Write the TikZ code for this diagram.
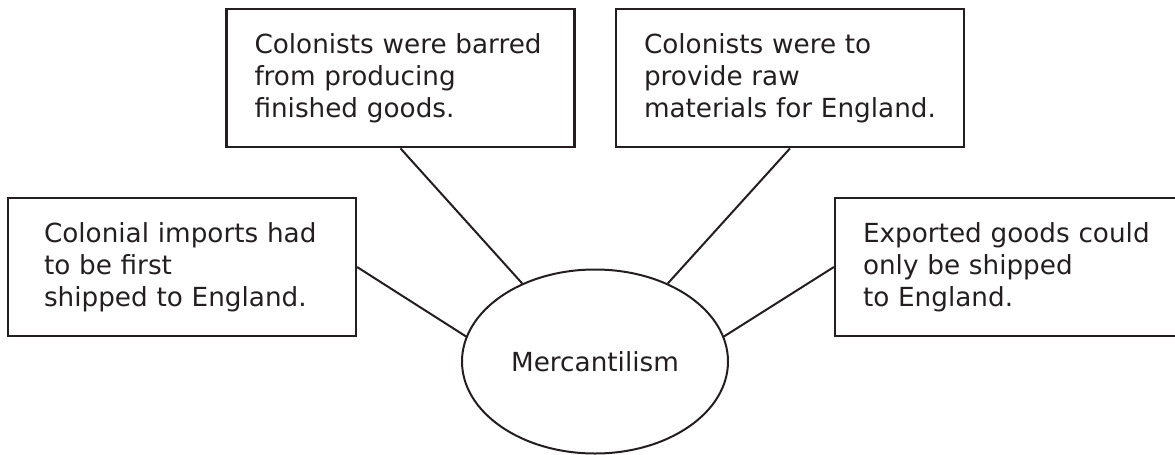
\documentclass[tikz,border=0pt]{standalone}
\usepackage{fontspec}
\setmainfont{DejaVu Sans}
\usetikzlibrary{shapes.geometric}
\definecolor{ink}{RGB}{35,31,32}

\begin{document}
\begin{tikzpicture}[x=0.75pt,y=0.75pt,yscale=-1,xscale=1,
  factbox/.style={draw=ink, line width=1.6pt, text=ink, minimum width=261pt, minimum height=104pt, inner xsep=21pt, text width=219pt, align=left, font=\fontsize{19.7}{24}\selectfont},
  hubnode/.style={ellipse, draw=ink, line width=1.5pt, text=ink, minimum width=199.5pt, minimum height=138pt, inner sep=0pt, font=\fontsize{19.7}{24}\selectfont},
  spoke/.style={draw=ink, line width=1.5pt}]
%set diagram size to the reference
\useasboundingbox (0,0) rectangle (1175,454);

% Text Node
\node [factbox] (barred) at (400.5,78) {Colonists were barred\\from producing\\finished goods.};
% Text Node
\node [factbox] (rawmat) at (790,78) {Colonists were to\\provide raw\\materials for England.};
% Text Node
\node [factbox, inner xsep=27pt, text width=207pt] (imports) at (182,267) {Colonial imports had\\to be first\\shipped to England.};
% Text Node
\node [factbox] (exports) at (1009,267) {Exported goods could\\only be shipped\\to England.};
% Ellipse
\node [hubnode] (merc) at (595,361.5) {Mercantilism};

%Straight Lines
\draw [spoke] (barred.south) -- (merc.133) ;
\draw [spoke] (rawmat.south) -- (merc.47) ;
\draw [spoke] (imports.east) -- (merc.169) ;
\draw [spoke] (exports.west) -- (merc.11) ;

\end{tikzpicture}
\end{document}
